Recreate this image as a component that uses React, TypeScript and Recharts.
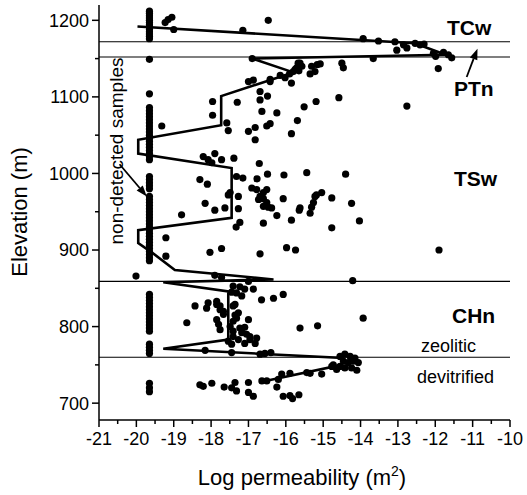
import React from 'react'
import { ScatterChart, Scatter, XAxis, YAxis, ReferenceLine } from 'recharts'

const FONT = '"Liberation Sans", Arial, Helvetica, sans-serif'

const xTicks = [-21, -20.5, -20, -19.5, -19, -18.5, -18, -17.5, -17, -16.5, -16, -15.5, -15, -14.5, -14, -13.5, -13, -12.5, -12, -11.5, -11, -10.5, -10]
const yTicks = [700, 750, 800, 850, 900, 950, 1000, 1050, 1100, 1150, 1200]

// unit contacts (m)
const unitBoundaries = [1172, 1152, 859, 760]

// non-detected samples plotted at the detection limit
const nonDetectedX = -19.65
const nonDetectedElev = [
  1212, 1209, 1206, 1203, 1200, 1197, 1194, 1191, 1188, 1185, 1182, 1179, 1176,
  1149, 1104,
  1086, 1082, 1078, 1074, 1070, 1066, 1062, 1058, 1054, 1050, 1046, 1042, 1038, 1034, 1030, 1026, 1022, 1018,
  996, 992, 988, 984, 980,
  970, 966, 962, 958, 954, 950, 946, 942, 938, 934, 930, 926, 922, 918, 914, 910, 906, 902, 898, 894, 890, 886,
  842, 838, 834, 830, 826, 822, 818, 814, 810, 806, 802, 798, 794,
  777, 773, 769, 765,
  726, 720, 715,
]

// measured samples [log k, elevation]
const detected: [number, number][] = [
  // TCw
  [-19.15, 1201], [-19.05, 1204], [-19.23, 1197], [-19.0, 1188], [-17.15, 1187], [-16.47, 1200], [-13.93, 1176],
  // PTn
  [-13.52, 1173], [-13.08, 1172], [-12.85, 1168], [-12.54, 1170], [-12.41, 1168], [-12.3, 1169], [-13.03, 1161],
  [-12.76, 1164], [-12.05, 1157], [-11.78, 1158], [-11.65, 1155], [-11.56, 1151], [-11.99, 1153], [-13.66, 1150],
  // TSw
  [-16.9, 1150], [-11.92, 1137], [-12.76, 1088], [-14.58, 1099], [-14.5, 1144], [-14.46, 1138], [-15.08, 1143],
  [-15.16, 1142], [-15.31, 1140], [-15.22, 1133], [-15.35, 1130], [-15.62, 1144], [-15.67, 1144], [-15.57, 1140],
  [-15.71, 1138], [-15.75, 1136], [-15.65, 1134], [-15.8, 1133], [-15.9, 1130], [-15.85, 1118], [-16.02, 1125],
  [-16.15, 1128], [-16.42, 1123], [-17.0, 1120], [-16.87, 1122], [-16.42, 1120], [-16.69, 1107], [-16.49, 1101],
  [-16.69, 1096], [-16.64, 1081], [-16.24, 1079], [-16.51, 1062], [-16.42, 1065], [-15.51, 1087], [-15.19, 1094],
  [-15.69, 1069], [-15.85, 1052], [-17.96, 1094], [-17.96, 1076], [-17.3, 1093], [-17.58, 1066], [-17.54, 1056],
  [-17.0, 1055], [-16.82, 1060], [-16.82, 1044], [-19.32, 1062],
  [-18.21, 1022], [-18.08, 1018], [-17.9, 1026], [-17.98, 1014], [-17.72, 1018], [-17.39, 1020], [-16.71, 1013],
  [-18.3, 992], [-18.1, 986], [-17.32, 996], [-17.15, 994], [-17.49, 975], [-17.27, 970], [-17.54, 972],
  [-16.77, 993], [-16.49, 999], [-16.05, 998], [-15.44, 1001], [-14.4, 999], [-16.91, 981], [-16.78, 979],
  [-16.73, 966], [-16.69, 970], [-16.6, 975], [-16.51, 979], [-16.07, 967], [-16.51, 962], [-15.18, 972],
  [-15.04, 975], [-15.22, 970], [-14.77, 968], [-14.24, 961], [-15.26, 962], [-16.6, 967], [-15.62, 955],
  [-16.6, 957], [-16.38, 955], [-16.47, 956], [-16.24, 945], [-16.6, 935], [-15.85, 939], [-15.64, 952],
  [-15.35, 948], [-15.31, 956], [-14.77, 929], [-14.03, 938], [-18.16, 961], [-17.9, 952], [-17.63, 955],
  [-17.27, 954], [-17.23, 936], [-17.33, 930], [-18.79, 946],
  [-19.21, 916], [-19.21, 892], [-18.03, 897], [-17.72, 902], [-16.69, 895], [-15.98, 903], [-15.74, 900],
  [-11.9, 900], [-20.01, 866], [-17.9, 867], [-17.72, 864], [-17.0, 859], [-14.21, 860],
  // CHn zeolitic
  [-17.41, 853], [-17.23, 852], [-17.1, 849], [-16.87, 849], [-17.45, 845], [-17.32, 844], [-17.18, 840],
  [-16.65, 835], [-16.33, 837], [-16.07, 842], [-18.43, 827], [-18.08, 831], [-17.85, 829], [-17.85, 833],
  [-18.12, 824], [-17.76, 822], [-17.76, 827], [-17.67, 816], [-17.67, 820], [-17.41, 827], [-17.36, 829],
  [-17.27, 818], [-17.36, 815], [-17.32, 811], [-17.41, 807], [-17.0, 809], [-18.65, 805], [-17.85, 809],
  [-17.8, 803], [-17.76, 796], [-17.49, 800], [-17.23, 798], [-17.1, 799], [-17.41, 794], [-17.18, 792],
  [-17.05, 790], [-16.96, 787], [-17.41, 787], [-17.27, 783], [-16.96, 783], [-17.54, 781], [-17.45, 777],
  [-17.1, 778], [-16.82, 778], [-16.78, 785], [-16.56, 765], [-16.4, 766], [-16.69, 764], [-17.45, 766],
  [-18.16, 769], [-13.93, 811], [-15.62, 798], [-15.15, 801],
  // CHn devitrified
  [-14.55, 761], [-14.42, 764], [-14.28, 761], [-14.15, 759], [-14.46, 755], [-14.33, 753], [-14.19, 755],
  [-14.06, 753], [-14.55, 748], [-14.42, 746], [-14.1, 743], [-14.24, 746], [-14.64, 744], [-14.73, 750],
  [-14.77, 748], [-15.04, 738], [-15.35, 739], [-15.44, 740], [-15.89, 739], [-16.11, 738], [-16.2, 731],
  [-16.51, 729], [-16.64, 729], [-18.3, 724], [-18.21, 722], [-17.98, 726], [-17.65, 721], [-17.45, 720],
  [-17.32, 716], [-17.36, 727], [-17.0, 727], [-17.0, 714], [-16.87, 709], [-16.24, 721], [-16.07, 709],
  [-15.89, 710], [-15.82, 706], [-15.65, 711],
]

// layer-averaged profile, drawn in order
const profile: [number, number][] = [
  [-19.97, 1192], [-12.55, 1170], [-11.72, 1155], [-16.9, 1150], [-15.8, 1132], [-17.73, 1101], [-17.73, 1063],
  [-19.95, 1044], [-19.95, 1026], [-17.45, 1007], [-17.45, 942], [-19.95, 926], [-19.95, 909], [-19.59, 897],
  [-18.97, 874], [-16.33, 861.5], [-19.28, 858], [-17.54, 846], [-17.54, 783], [-19.28, 771], [-14.47, 759],
  [-14.5, 750], [-16.55, 729],
]

const nonDetectedPts = nonDetectedElev.map((y) => ({ x: nonDetectedX, y }))
const detectedPts = detected.map(([x, y]) => ({ x, y }))
const profilePts = profile.map(([x, y]) => ({ x, y }))

const Dot = (p: any) => <circle cx={p.cx} cy={p.cy} r={3.6} fill="#000" />
const NoDot = () => <g />

const BottomTick = (p: any) => {
  const major = Number.isInteger(p.payload.value)
  return (
    <g>
      <line x1={p.x} x2={p.x} y1={p.y} y2={p.y + (major ? 7 : 4)} stroke="#000" strokeWidth={1.5} />
      {major && (
        <text x={p.x} y={p.y + 25} textAnchor="middle" fontSize={18} fontFamily={FONT} fill="#000">
          {p.payload.value}
        </text>
      )}
    </g>
  )
}
const TopTick = (p: any) => {
  const major = Number.isInteger(p.payload.value)
  return <line x1={p.x} x2={p.x} y1={p.y} y2={p.y + (major ? 7 : 4)} stroke="#000" strokeWidth={1.5} />
}
const LeftTick = (p: any) => {
  const major = p.payload.value % 100 === 0
  return (
    <g>
      <line x1={p.x} x2={p.x - (major ? 7 : 4)} y1={p.y} y2={p.y} stroke="#000" strokeWidth={1.5} />
      {major && (
        <text x={p.x - 10} y={p.y} dy="0.36em" textAnchor="end" fontSize={18} fontFamily={FONT} fill="#000">
          {p.payload.value}
        </text>
      )}
    </g>
  )
}
const RightTick = (p: any) => {
  const major = p.payload.value % 100 === 0
  return <line x1={p.x} x2={p.x - (major ? 7 : 4)} y1={p.y} y2={p.y} stroke="#000" strokeWidth={1.5} />
}

const Arrow = (p: any) => {
  const { x1, y1, x2, y2 } = p
  const a = Math.atan2(y2 - y1, x2 - x1)
  const L = 11, W = 4
  const bx = x2 - L * Math.cos(a), by = y2 - L * Math.sin(a)
  const pts = `${x2},${y2} ${bx + W * Math.sin(a)},${by - W * Math.cos(a)} ${bx - W * Math.sin(a)},${by + W * Math.cos(a)}`
  return (
    <g>
      <line x1={x1} y1={y1} x2={bx} y2={by} stroke="#000" strokeWidth={1.8} />
      <polygon points={pts} fill="#000" />
    </g>
  )
}

const axisLine = { stroke: '#000', strokeWidth: 1.5 }

export default function App() {
  return (
    <div style={{ position: 'absolute', left: 0, top: 0, width: 527, height: 495, background: '#fff', fontFamily: FONT }}>
      <ScatterChart width={527} height={495} margin={{ top: 5, right: 17, bottom: 0, left: 0 }}>
        <XAxis type="number" dataKey="x" domain={[-21, -10]} ticks={xTicks} interval={0} allowDataOverflow
          height={75} tickSize={0} tickMargin={0} tickLine={false} axisLine={axisLine} tick={BottomTick} />
        <XAxis xAxisId="top" orientation="top" mirror type="number" dataKey="x" domain={[-21, -10]} ticks={xTicks}
          interval={0} allowDataOverflow height={0} tickSize={0} tickMargin={0} tickLine={false} axisLine={axisLine} tick={TopTick} />
        <YAxis type="number" dataKey="y" domain={[678, 1220]} ticks={yTicks} interval={0} allowDataOverflow
          width={99} tickSize={0} tickMargin={0} tickLine={false} axisLine={axisLine} tick={LeftTick} />
        <YAxis yAxisId="right" orientation="right" mirror type="number" dataKey="y" domain={[678, 1220]} ticks={yTicks}
          interval={0} allowDataOverflow width={0} tickSize={0} tickMargin={0} tickLine={false} axisLine={axisLine} tick={RightTick} />
        {unitBoundaries.map((b) => (
          <ReferenceLine key={b} y={b} stroke="#000" strokeWidth={1.1} />
        ))}
        <Scatter data={nonDetectedPts} shape={Dot} isAnimationActive={false} />
        <Scatter data={detectedPts} shape={Dot} isAnimationActive={false} />
        <Scatter data={profilePts} shape={NoDot} line={{ stroke: '#000', strokeWidth: 2.6 }} lineType="joint" isAnimationActive={false} />
        <ReferenceLine segment={[{ x: -20.45, y: 1012 }, { x: -19.72, y: 970 }]} shape={Arrow} />
        <ReferenceLine segment={[{ x: -11.16, y: 1126 }, { x: -10.87, y: 1163 }]} shape={Arrow} />
      </ScatterChart>
      <svg width={527} height={495} style={{ position: 'absolute', left: 0, top: 0, pointerEvents: 'none' }}>
        <g fontFamily={FONT} fill="#000">
          <text x={27} y={212} transform="rotate(-90 27 212)" textAnchor="middle" fontSize={22}>Elevation (m)</text>
          <text x={302} y={485} textAnchor="middle" fontSize={22}>
            Log permeability (m<tspan dy={-9} fontSize={14}>2</tspan><tspan dy={9}>)</tspan>
          </text>
          <text x={123} y={151} transform="rotate(-90 123 151)" textAnchor="middle" fontSize={19}>non-detected samples</text>
          <text x={447} y={35} fontSize={21} fontWeight="bold">TCw</text>
          <text x={454} y={96} fontSize={21} fontWeight="bold">PTn</text>
          <text x={454} y={186} fontSize={21} fontWeight="bold">TSw</text>
          <text x={452} y={323} fontSize={21} fontWeight="bold">CHn</text>
          <text x={421} y={352} fontSize={18}>zeolitic</text>
          <text x={417} y={383} fontSize={18}>devitrified</text>
        </g>
      </svg>
    </div>
  )
}
